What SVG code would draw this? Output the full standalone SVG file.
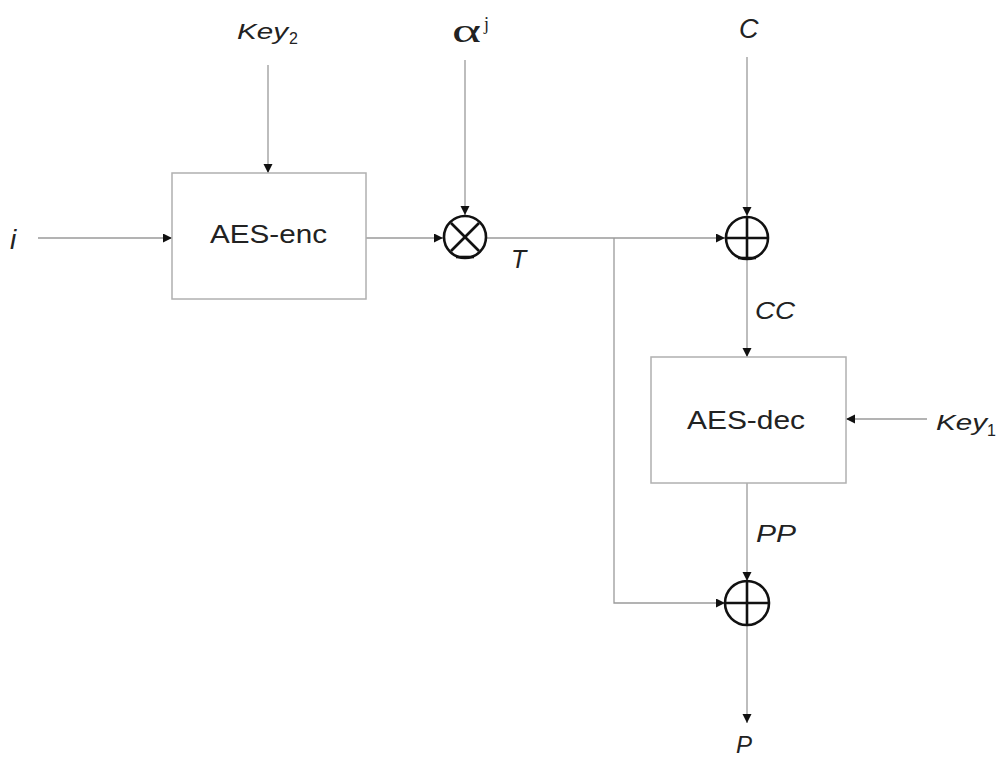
<svg xmlns="http://www.w3.org/2000/svg" width="1002" height="757" viewBox="0 0 1002 757">
<style>
.ln{stroke:#9a9a9a;stroke-width:1.3;fill:none}
.box{fill:#fff;stroke:#b0b0b0;stroke-width:1.5}
.op{fill:none;stroke:#111;stroke-width:2.6}
.lbl{font-family:"Liberation Sans",Arial,sans-serif;fill:#222}
.it{font-style:italic}
</style>
<defs>
<marker id="ar" markerUnits="userSpaceOnUse" markerWidth="10" markerHeight="10" refX="9" refY="4.5" orient="auto">
<path d="M0,0 L9,4.5 L0,9 Z" fill="#111"/>
</marker>
</defs>
<rect width="1002" height="757" fill="#fff"/>
<g id="connectors">
<line class="ln" x1="38" y1="238" x2="172" y2="238" marker-end="url(#ar)"/>
<line class="ln" x1="268" y1="65" x2="268" y2="173" marker-end="url(#ar)"/>
<line class="ln" x1="366" y1="238" x2="443" y2="238" marker-end="url(#ar)"/>
<line class="ln" x1="465" y1="60" x2="465" y2="215" marker-end="url(#ar)"/>
<line class="ln" x1="487" y1="238" x2="725" y2="238" marker-end="url(#ar)"/>
<line class="ln" x1="747" y1="57" x2="747" y2="216" marker-end="url(#ar)"/>
<line class="ln" x1="747" y1="260" x2="747" y2="357" marker-end="url(#ar)"/>
<polyline class="ln" points="614,238 614,603 725,603" marker-end="url(#ar)"/>
<line class="ln" x1="927" y1="419" x2="846" y2="419" marker-end="url(#ar)"/>
<line class="ln" x1="747" y1="483" x2="747" y2="581" marker-end="url(#ar)"/>
<line class="ln" x1="747" y1="625" x2="747" y2="723" marker-end="url(#ar)"/>
</g>
<g id="aes-enc">
<rect class="box" x="172" y="173" width="194" height="126"/>
<text class="lbl" x="210" y="243" font-size="25" textLength="117" lengthAdjust="spacingAndGlyphs">AES-enc</text>
</g>
<g id="aes-dec">
<rect class="box" x="651" y="357" width="195" height="126"/>
<text class="lbl" x="687" y="429" font-size="25" textLength="118" lengthAdjust="spacingAndGlyphs">AES-dec</text>
</g>
<g id="mult">
<circle class="op" cx="465" cy="237" r="21"/>
<line class="op" x1="451" y1="223" x2="479" y2="251"/>
<line class="op" x1="479" y1="223" x2="451" y2="251"/>
<line class="op" x1="456" y1="257" x2="474" y2="257"/>
</g>
<g id="xor1">
<circle class="op" cx="747" cy="238" r="21"/>
<line class="op" x1="727" y1="238" x2="767" y2="238"/>
<line class="op" x1="747" y1="218" x2="747" y2="258"/>
<line class="op" x1="738" y1="258" x2="756" y2="258"/>
</g>
<g id="xor2">
<circle class="op" cx="747" cy="603" r="22"/>
<line class="op" x1="726" y1="603" x2="768" y2="603"/>
<line class="op" x1="747" y1="582" x2="747" y2="624"/>
</g>
<g id="labels">
<text class="lbl it" x="10" y="249" font-size="28">i</text>
<text class="lbl it" x="237" y="39" font-size="22" textLength="51" lengthAdjust="spacingAndGlyphs">Key</text>
<text class="lbl" x="289" y="44" font-size="16">2</text>
<text x="452" y="42" font-family="'Liberation Serif','Times New Roman',serif" font-size="34" fill="#222" textLength="29" lengthAdjust="spacingAndGlyphs">α</text>
<text x="484" y="30" font-family="'Liberation Serif','Times New Roman',serif" font-size="18" fill="#222">j</text>
<text class="lbl it" x="511" y="268" font-size="25">T</text>
<text class="lbl it" x="739" y="38" font-size="27">C</text>
<text class="lbl it" x="755" y="319" font-size="24" textLength="40" lengthAdjust="spacingAndGlyphs">CC</text>
<text class="lbl it" x="936" y="430" font-size="22" textLength="51" lengthAdjust="spacingAndGlyphs">Key</text>
<text class="lbl" x="987" y="436" font-size="16">1</text>
<text class="lbl it" x="756" y="542" font-size="24" textLength="40" lengthAdjust="spacingAndGlyphs">PP</text>
<text class="lbl it" x="736" y="753" font-size="24">P</text>
</g>
</svg>
